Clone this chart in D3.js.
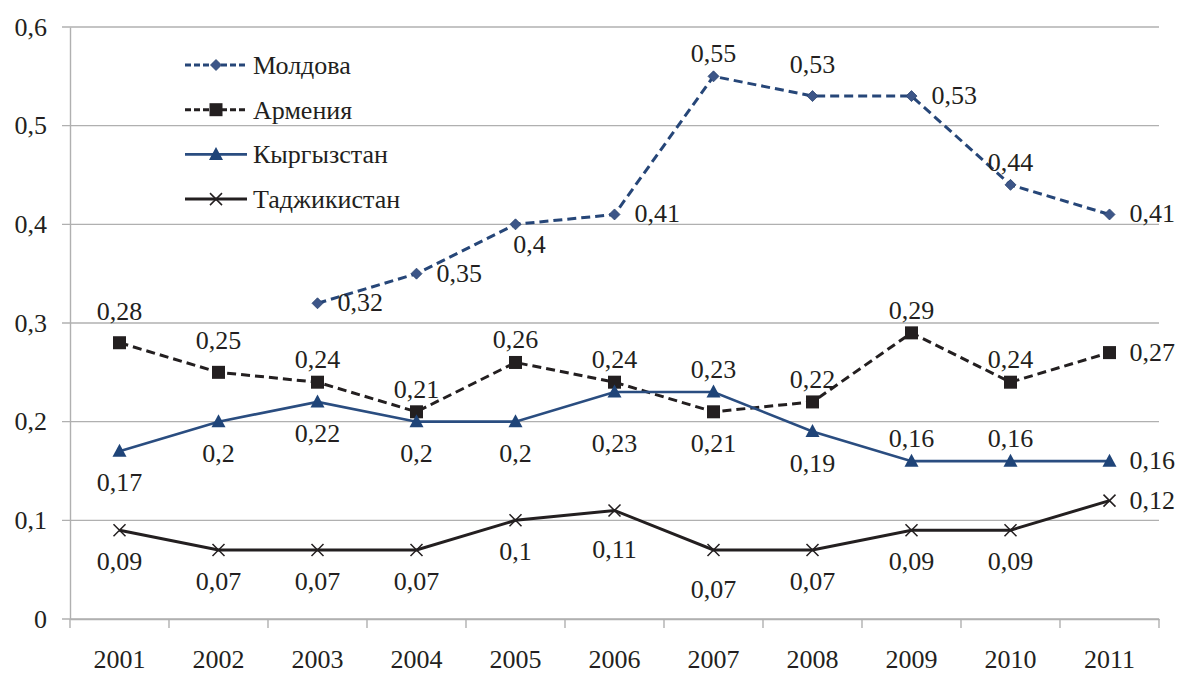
<!DOCTYPE html>
<html>
<head>
<meta charset="utf-8">
<title>Chart</title>
<script src="https://d3js.org/d3.v7.min.js"></script>
<style>
  body { margin: 0; background: #fff; font-family: 'Liberation Serif'; }
  #chart text { font-family: 'Liberation Serif'; }
</style>
</head>
<body>
<div id="chart"></div>
<script>
const years = ["2001","2002","2003","2004","2005","2006","2007","2008","2009","2010","2011"];
const moldova    = [null, null, 0.32, 0.35, 0.40, 0.41, 0.55, 0.53, 0.53, 0.44, 0.41];
const armenia    = [0.28, 0.25, 0.24, 0.21, 0.26, 0.24, 0.21, 0.22, 0.29, 0.24, 0.27];
const kyrgyzstan = [0.17, 0.20, 0.22, 0.20, 0.20, 0.23, 0.23, 0.19, 0.16, 0.16, 0.16];
const tajikistan = [0.09, 0.07, 0.07, 0.07, 0.10, 0.11, 0.07, 0.07, 0.09, 0.09, 0.12];
const yTicks = [0, 0.1, 0.2, 0.3, 0.4, 0.5, 0.6];
// where each value label sits relative to its point
const moldovaPos    = [null, null, "r", "r", "bs", "r", "t2", "t", "r", "t2", "r"];
const armeniaPos    = ["t", "t", "t2", "t2", "t2", "t2", "b", "t2", "t2", "t2", "r"];
const kyrgyzstanPos = ["b", "b", "b", "b", "b", "b3", "t2", "b", "t2", "t2", "r"];
const tajikistanPos = ["b", "b", "b", "b", "b", "b2", "b2", "b", "b", "b", "r"];

const FONT = "Liberation Serif";
const FS = 26;
const width = 1182, height = 673;
const mLeft = 70, mRight = 1159, mTop = 27, mBottom = 619;

const svg = d3.select("#chart").append("svg")
  .attr("width", width).attr("height", height)
  .attr("font-family", FONT);

const x = d3.scaleBand().domain(years).range([mLeft, mRight]);
const y = d3.scaleLinear().domain([0, 0.6]).range([mBottom, mTop]);
const cx = d => x(d) + x.bandwidth() / 2;
const fmt = v => String(v).replace(".", ",");

// grid
svg.append("g").selectAll("line").data(yTicks).join("line")
  .attr("x1", mLeft - 8).attr("x2", mRight)
  .attr("y1", d => y(d)).attr("y2", d => y(d))
  .attr("stroke", "#b0b0b0").attr("stroke-width", 1.4);

// axes
const yAxis = d3.axisLeft(y).tickValues(yTicks).tickSize(0).tickPadding(23)
  .tickFormat(d => d === 0 ? "0" : fmt(d3.format(".1f")(d)));
const gy = svg.append("g").attr("transform", `translate(${mLeft},0)`).call(yAxis);
gy.attr("font-family", FONT).attr("font-size", FS);
gy.select(".domain").attr("stroke", "#b0b0b0").attr("stroke-width", 1.4);
gy.selectAll("text").attr("fill", "#231f20");

const xAxis = d3.axisBottom(x).tickSize(0).tickPadding(31);
const gx = svg.append("g").attr("transform", `translate(0,${mBottom})`).call(xAxis);
gx.attr("font-family", FONT).attr("font-size", FS);
gx.select(".domain").attr("stroke", "#b0b0b0").attr("stroke-width", 1.4);
gx.selectAll("text").attr("fill", "#231f20");
const edges = years.map(d => x(d)).concat([mRight]);
gx.append("g").selectAll("line").data(edges).join("line")
  .attr("x1", d => d).attr("x2", d => d).attr("y1", 0).attr("y2", 9)
  .attr("stroke", "#b0b0b0").attr("stroke-width", 1.4);

const series = [
  { name: "Молдова", values: moldova, pos: moldovaPos, color: "#264678", fill: "#3d5688", width: 3, dash: "9,5", legendDash: "6,3", marker: "diamond" },
  { name: "Армения", values: armenia, pos: armeniaPos, color: "#231f20", fill: "#231f20", width: 3, dash: "9,5", legendDash: "6,3", marker: "square" },
  { name: "Кыргызстан", values: kyrgyzstan, pos: kyrgyzstanPos, color: "#2a4d80", fill: "#1f4478", width: 2.6, dash: null, marker: "triangle" },
  { name: "Таджикистан", values: tajikistan, pos: tajikistanPos, color: "#231f20", fill: "none", width: 3, dash: null, marker: "cross" }
];

function drawMarker(g, type, s) {
  if (type === "diamond") {
    g.append("path").attr("d", "M0,-5.5L5.5,0L0,5.5L-5.5,0Z").attr("fill", s.fill).attr("stroke", "#2b4470").attr("stroke-width", 0.8);
  } else if (type === "square") {
    g.append("rect").attr("x", -6.5).attr("y", -6.5).attr("width", 13).attr("height", 13).attr("fill", s.fill);
  } else if (type === "triangle") {
    g.append("path").attr("d", "M0,-7.5L7,5.5L-7,5.5Z").attr("fill", s.fill);
  } else {
    g.append("path").attr("d", "M-6,-6L6,6M-6,6L6,-6").attr("stroke", s.color).attr("stroke-width", 1.5).attr("fill", "none");
  }
}

const line = d3.line()
  .defined(d => d.v !== null)
  .x(d => cx(d.year)).y(d => y(d.v));

const offsets = {
  t:  [0, -23, "middle"],
  t2: [0, -14, "middle"],
  b:  [0, 40, "middle"],
  b2: [0, 48, "middle"],
  b3: [0, 60, "middle"],
  bs: [14, 29, "middle"],
  r:  [20, 8, "start"]
};

series.forEach(s => {
  const pts = years.map((yr, i) => ({ year: yr, v: s.values[i], pos: s.pos[i] }));
  svg.append("path").datum(pts)
    .attr("d", line).attr("fill", "none")
    .attr("stroke", s.color).attr("stroke-width", s.width)
    .attr("stroke-dasharray", s.dash);
  const valid = pts.filter(d => d.v !== null);
  valid.forEach(d => {
    const g = svg.append("g").attr("transform", `translate(${cx(d.year)},${y(d.v)})`);
    drawMarker(g, s.marker, s);
  });
  svg.append("g").selectAll("text").data(valid).join("text")
    .attr("x", d => cx(d.year) + offsets[d.pos][0])
    .attr("y", d => y(d.v) + offsets[d.pos][1])
    .attr("text-anchor", d => offsets[d.pos][2])
    .attr("font-family", FONT).attr("font-size", FS)
    .attr("fill", "#231f20")
    .text(d => fmt(d.v));
});

// legend
const legend = svg.append("g").attr("transform", "translate(185,65)");
series.forEach((s, i) => {
  const g = legend.append("g").attr("transform", `translate(0,${i * 44.7})`);
  g.append("line").attr("x1", 0).attr("x2", 62).attr("y1", 0).attr("y2", 0)
    .attr("stroke", s.color).attr("stroke-width", s.width).attr("stroke-dasharray", s.legendDash || null);
  const m = g.append("g").attr("transform", "translate(31,0)");
  drawMarker(m, s.marker, s);
  g.append("text").attr("x", 68).attr("y", 9)
    .attr("font-family", FONT).attr("font-size", FS)
    .attr("fill", "#231f20").text(s.name);
});

// re-parse the finished svg as markup
const holder = document.getElementById("chart");
holder.innerHTML = holder.innerHTML;
</script>
</body>
</html>
